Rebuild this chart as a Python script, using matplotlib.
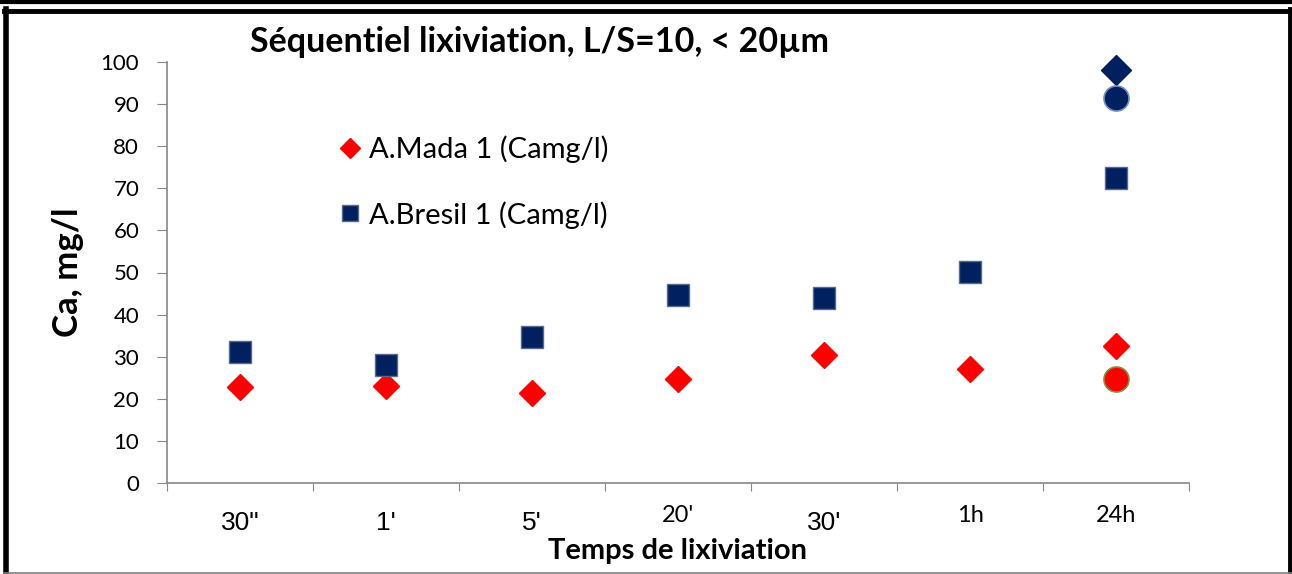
import numpy as np
import matplotlib.pyplot as plt
from matplotlib.lines import Line2D
from matplotlib.transforms import ScaledTranslation

# ---------------------------------------------------------------
# Séquentiel lixiviation, L/S=10, < 20um  -- Ca (mg/l) vs time
# ---------------------------------------------------------------

times = ['30"', "1'", "5'", "20'", "30'", "1h", "24h"]
mada = [22.8, 23.0, 21.4, 24.7, 30.4, 27.1, 32.5]
bresil = [31.1, 28.0, 34.7, 44.7, 43.9, 50.1, 72.4]

# isolated extra points at 24h
extra_diamond = 98.1
extra_circle_blue = 91.4
extra_circle_red = 24.7

RED = '#FF0000'
NAVY = '#002060'

W, H = 1292, 574
fig = plt.figure(figsize=(W / 100, H / 100), dpi=100)
ax = fig.add_axes([167 / W, 1 - 483 / H, (1189 - 167) / W, (483 - 62) / H])

x = np.arange(len(times)) + 0.5

ax.plot(x, mada, 'D', color=RED, ms=13, mec=RED, ls='none',
        label='A.Mada 1 (Camg/l)', zorder=3, clip_on=False)
ax.plot(x, bresil, 's', color=NAVY, ms=16, mec='#5a6a85', mew=1, ls='none',
        label='A.Bresil 1 (Camg/l)', zorder=3, clip_on=False)
ax.plot(x[-1], extra_diamond, 'D', color=NAVY, ms=15, mec=NAVY, zorder=3, clip_on=False)
ax.plot(x[-1], extra_circle_blue, 'o', color=NAVY, ms=18, mec='#6f8fc0', mew=1.2,
        zorder=3, clip_on=False)
ax.plot(x[-1], extra_circle_red, 'o', color=RED, ms=18, mec='#77933C', mew=1.2,
        zorder=3, clip_on=False)

ax.set_xlim(0, len(times))
ax.set_ylim(0, 100)
ax.set_yticks(np.arange(0, 101, 10))
ax.set_xticks(np.arange(len(times) + 1))
ax.set_xticklabels([])
ax.set_xticks(x, minor=True)
ax.set_xticklabels(times, minor=True)
ax.tick_params(axis='x', which='minor', length=0, pad=20)
ax.tick_params(axis='x', which='major', length=6, color='#888888', direction='out')
ax.tick_params(axis='y', length=7, color='#888888', direction='out', pad=13,
               labelsize=16)
for lab in ax.get_yticklabels():
    lab.set_fontfamily('Lato')

arial_like = ['30"', "1'", "5'", "30'"]
for lab in ax.xaxis.get_minorticklabels():
    if lab.get_text() in arial_like:
        lab.set_fontfamily('Liberation Sans')
        lab.set_fontsize(19)
    else:
        lab.set_fontfamily('Lato')
        lab.set_fontsize(17)
        lab.set_transform(lab.get_transform() + ScaledTranslation(0, 4 / 72, fig.dpi_scale_trans))

for s in ['top', 'right']:
    ax.spines[s].set_visible(False)
for s in ['left', 'bottom']:
    ax.spines[s].set_color('#888888')
    ax.spines[s].set_linewidth(1.2)

ax.set_ylabel('Ca, mg/l', fontsize=25, fontweight='bold', family='Lato', labelpad=12)
ax.set_xlabel('Temps de lixiviation', fontsize=21, fontweight='bold', family='Lato', labelpad=2)

leg = ax.legend(loc='upper left', bbox_to_anchor=(0.145, 0.888), frameon=False,
                prop={'family': 'Lato', 'size': 21}, handlelength=0.6,
                handletextpad=0.35, labelspacing=1.3, markerscale=0.75)

fig.text(540 / W, 1 - 42 / H, 'Séquentiel lixiviation, L/S=10, < 20µm',
         fontsize=24.5, fontweight='bold', family='Lato', ha='center', va='center')

# frame around the figure
def hline(y, x0, x1, lw, c):
    fig.add_artist(Line2D([x0 / W, x1 / W], [1 - y / H, 1 - y / H], lw=lw, color=c))

def vline(xp, y0, y1, lw, c):
    fig.add_artist(Line2D([xp / W, xp / W], [1 - y0 / H, 1 - y1 / H], lw=lw, color=c))

hline(1.5, 0, W, 3, 'black')
hline(11, 4, W - 2, 3.5, 'black')
vline(6, 9, 574, 4, 'black')
vline(W - 2, 9, 574, 3.5, 'black')
hline(572.5, 4, W, 1.2, '#808080')

plt.savefig('out.png', dpi=100)
